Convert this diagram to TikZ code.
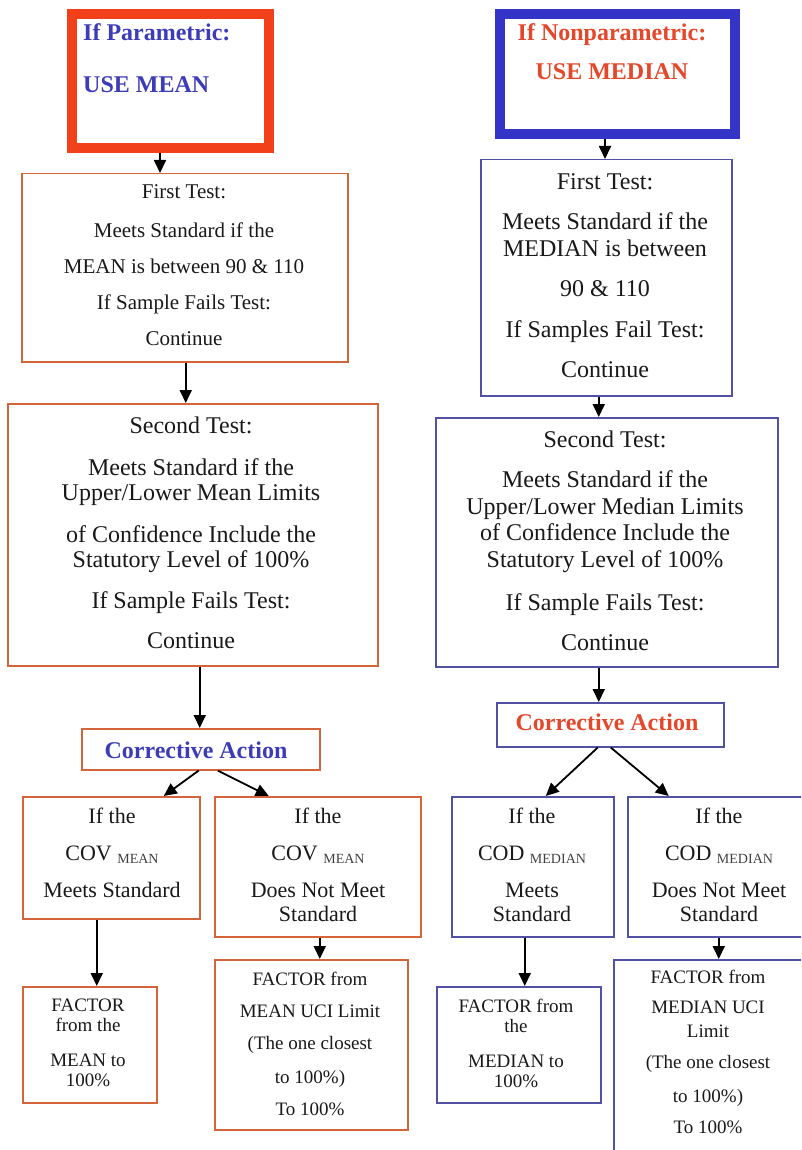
\documentclass[tikz,border=0pt]{standalone}
\usepackage{fontspec}
\setmainfont{Liberation Serif}
\usetikzlibrary{arrows.meta}
\definecolor{thickred}{HTML}{F2401A}
\definecolor{thickblue}{HTML}{3434C6}
\definecolor{lineorange}{HTML}{D4643A}
\definecolor{lineblue}{HTML}{5252A4}
\definecolor{textblue}{HTML}{3C3CB8}
\definecolor{textred}{HTML}{E4472A}
\newcommand{\subtxt}[1]{{\fontsize{14}{14}\selectfont\color{black!75}\raisebox{-3pt}{#1}}}
\begin{document}
\begin{tikzpicture}[x=1pt,y=-1pt,
  thickbox/.style={draw, line width=10pt, anchor=north west, inner sep=0pt},
  obox/.style={draw=lineorange, line width=1.5pt, anchor=north west, inner sep=0pt},
  bbox/.style={draw=lineblue, line width=1.5pt, anchor=north west, inner sep=0pt},
  txt/.style={inner sep=0pt, align=center, anchor=north, text=black!90},
  arr/.style={line width=1.8pt, -{Triangle[length=13pt,width=12pt]}}]
\useasboundingbox (0,0) rectangle (801,1150);
\clip (0,0) rectangle (801,1150);
\fill[white] (0,0) rectangle (801,1150);

% ---------- boxes ----------
\node[thickbox, draw=thickred, minimum width=197.5pt, minimum height=133.5pt] (B1) at (66.5,9.5) {};
\node[thickbox, draw=thickblue, minimum width=235pt, minimum height=120.5pt] (B2) at (495,9) {};
\node[obox, minimum width=326pt, minimum height=188pt] (B3) at (21,173) {};
\node[obox, minimum width=370pt, minimum height=262pt] (B4) at (7,403) {};
\node[bbox, minimum width=251pt, minimum height=236pt] (B5) at (480,159) {};
\node[bbox, minimum width=342pt, minimum height=249pt] (B6) at (435,417) {};
\node[obox, minimum width=238pt, minimum height=41pt] (B7) at (81,728) {};
\node[bbox, minimum width=227pt, minimum height=44pt] (B8) at (496,702) {};
\node[obox, minimum width=177pt, minimum height=122pt] (B9) at (22,796) {};
\node[obox, minimum width=206pt, minimum height=140pt] (B10) at (214,796) {};
\node[bbox, minimum width=162pt, minimum height=140pt] (B11) at (451,796) {};
\node[bbox, minimum width=183pt, minimum height=140pt] (B12) at (627,796) {};
\node[obox, minimum width=134pt, minimum height=116pt] (B13) at (22,986) {};
\node[obox, minimum width=193pt, minimum height=170pt] (B14) at (214,959) {};
\node[bbox, minimum width=164pt, minimum height=116pt] (B15) at (436,986) {};
\node[bbox, minimum width=192pt, minimum height=210pt] (B16) at (613,959) {};

% ---------- texts ----------
\node[inner sep=0pt, align=left, anchor=north west, text=textblue,
      font=\bfseries\fontsize{24}{52}\selectfont] (T1) at (83,23.7)
      {If Parametric:\\USE MEAN};
\node[inner sep=0pt, align=center, anchor=north, text=textred,
      font=\bfseries\fontsize{24}{39}\selectfont] (T2) at (612,23.7)
      {If Nonparametric:\\USE MEDIAN};
\node[txt, font=\fontsize{21}{36}\selectfont] (T3) at (184,184.7)
      {First Test:\\[3pt]Meets Standard if the\\MEAN is between 90 \& 110\\If Sample Fails Test:\\Continue};
\node[txt, font=\fontsize{24}{25}\selectfont] (T4) at (191,416.7)
      {Second Test:\\[17pt]Meets Standard if the\\Upper/Lower Mean Limits\\[17pt]of Confidence Include the\\Statutory Level of 100\%\\[16pt]If Sample Fails Test:\\[15pt]Continue};
\node[txt, font=\fontsize{24}{27}\selectfont] (T5) at (605,173.7)
      {First Test:\\[13pt]Meets Standard if the\\MEDIAN is between\\[13pt]90 \& 110\\[14pt]If Samples Fail Test:\\[13pt]Continue};
\node[txt, font=\fontsize{24}{26.5}\selectfont] (T6) at (605,430.7)
      {Second Test:\\[13.5pt]Meets Standard if the\\Upper/Lower Median Limits\\of Confidence Include the\\Statutory Level of 100\%\\[16.5pt]If Sample Fails Test:\\[13.5pt]Continue};
\node[inner sep=0pt, anchor=base, text=textblue, font=\bfseries\fontsize{24}{26}\selectfont] (T7) at (196,758) {Corrective Action};
\node[inner sep=0pt, anchor=base, text=textred, font=\bfseries\fontsize{24}{26}\selectfont] (T8) at (607,730) {Corrective Action};
\node[txt, font=\fontsize{22}{37}\selectfont] (T9) at (112,808)
      {If the\\COV \subtxt{MEAN}\\Meets Standard};
\node[txt, font=\fontsize{22}{24}\selectfont] (T10) at (318,808)
      {If the\\[13pt]COV \subtxt{MEAN}\\[13pt]Does Not Meet\\Standard};
\node[txt, font=\fontsize{22}{24}\selectfont] (T11) at (532,808)
      {If the\\[13pt]COD \subtxt{MEDIAN}\\[13pt]Meets\\Standard};
\node[txt, font=\fontsize{22}{24}\selectfont] (T12) at (719,808)
      {If the\\[13pt]COD \subtxt{MEDIAN}\\[13pt]Does Not Meet\\Standard};
\node[txt, font=\fontsize{19}{20}\selectfont] (T13) at (88,999)
      {FACTOR\\from the\\[15pt]MEAN to\\100\%};
\node[txt, font=\fontsize{19}{32}\selectfont] (T14) at (310,972)
      {FACTOR from\\MEAN UCI Limit\\(The one closest\\[2pt]to 100\%)\\To 100\%};
\node[txt, font=\fontsize{19}{20}\selectfont] (T15) at (516,999)
      {FACTOR from\\the\\[15pt]MEDIAN to\\100\%};
\node[txt, font=\fontsize{19}{24}\selectfont] (T16) at (708,970)
      {FACTOR from\\[6pt]MEDIAN UCI\\Limit\\[7pt](The one closest\\[10pt]to 100\%)\\[7pt]To 100\%};

% ---------- arrows ----------
\draw[arr] ([xshift=-10.25pt]B1.south) -- ([xshift=-10.25pt]B1.south |- B3.north);
\draw[arr] ([xshift=1pt]B3.south) -- ([xshift=1pt]B3.south |- B4.north);
\draw[arr] ([xshift=7pt]B4.south) -- ([xshift=7pt]B4.south |- B7.north);
\draw[arr] ([xshift=-2pt]B7.south) -- ([xshift=52.5pt]B9.north);
\draw[arr] ([xshift=17pt]B7.south) -- ([xshift=-49pt]B10.north);
\draw[arr] ([xshift=-14.5pt]B9.south) -- ([xshift=-14.5pt]B9.south |- B13.north);
\draw[arr] ([xshift=2pt]B10.south) -- ([xshift=2pt]B10.south |- B14.north);
\draw[arr] ([xshift=-12.5pt]B2.south) -- ([xshift=-12.5pt]B2.south |- B5.north);
\draw[arr] ([xshift=-7.5pt]B5.south) -- ([xshift=-7.5pt]B5.south |- B6.north);
\draw[arr] ([xshift=-8pt]B6.south) -- ([xshift=-8pt]B6.south |- B8.north);
\draw[arr] ([xshift=-12.5pt]B8.south) -- ([xshift=13pt]B11.north);
\draw[arr] ([xshift=0.5pt]B8.south) -- ([xshift=-50.5pt]B12.north);
\draw[arr] ([xshift=-8pt]B11.south) -- ([xshift=-8pt]B11.south |- B15.north);
\draw[arr] ([xshift=-0.5pt]B12.south) -- ([xshift=-0.5pt]B12.south |- B16.north);
\end{tikzpicture}
\end{document}
